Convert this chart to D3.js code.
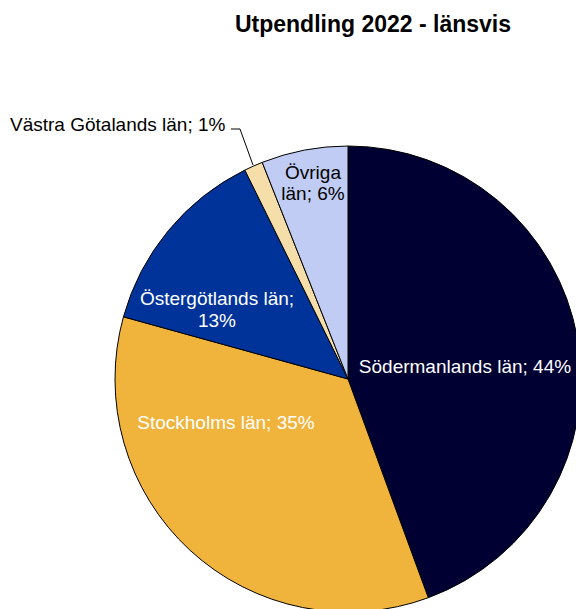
<!DOCTYPE html>
<html><head><meta charset="utf-8">
<script src="https://cdn.jsdelivr.net/npm/d3@7"></script>
<style>html,body{margin:0;padding:0;background:#fff;overflow:hidden}</style>
</head><body>
<script>
const categories = ["Södermanlands län", "Stockholms län", "Östergötlands län", "Västra Götalands län", "Övriga län"];
const values = [44.4, 34.9, 13.4, 1.3, 6.0];
const percentLabels = ["44%", "35%", "13%", "1%", "6%"];
const colors = ["#000033", "#F0B43C", "#003399", "#F5DEAA", "#C0CCF4"];
const title = "Utpendling 2022 - länsvis";

const W = 576, H = 609;
const cx = 348, cy = 379, R = 233;
const font = "'Liberation Sans', Arial, sans-serif";

const svg = d3.select("body").append("svg").attr("width", W).attr("height", H);

svg.append("text").attr("x", 373).attr("y", 32).attr("text-anchor", "middle")
  .attr("font-family", font).attr("font-weight", "bold").attr("font-size", 23)
  .text(title);

const data = categories.map((c, i) => ({name: c, value: values[i], pct: percentLabels[i], color: colors[i]}));
const pie = d3.pie().value(d => d.value).sort(null);
const arcs = pie(data);
const arc = d3.arc().innerRadius(0).outerRadius(R);

const g = svg.append("g").attr("transform", `translate(${cx},${cy})`);
g.selectAll("path").data(arcs).join("path")
  .attr("d", arc).attr("fill", d => d.data.color)
  .attr("stroke", "#000").attr("stroke-width", 1);

// label layouts (pixel positions relative to page) per slice
const layout = [
  {lines: d => [d.name + "; " + d.pct], x: 465, y: [373], fill: "#fff"},
  {lines: d => [d.name + "; " + d.pct], x: 226, y: [429], fill: "#fff"},
  {lines: d => [d.name + ";", d.pct], x: 217, y: [305, 327], fill: "#fff"},
  {lines: d => [d.name + "; " + d.pct], x: 10, y: [131], fill: "#000", anchor: "start"},
  {lines: d => ["Övriga", "län; " + d.pct], x: 313, y: [179, 200], fill: "#000"}
];

arcs.forEach((a, i) => {
  const L = layout[i];
  const t = svg.append("text").attr("font-family", font).attr("font-size", 19)
    .attr("fill", L.fill).attr("text-anchor", L.anchor || "middle");
  L.lines(a.data).forEach((ln, j) => {
    t.append("tspan").attr("x", L.x).attr("y", L.y[j]).text(ln);
  });
});

// leader line for small slice
const small = arcs[3];
const mid = (small.startAngle + small.endAngle) / 2;
const ex = cx + Math.sin(mid) * (R + 1), ey = cy - Math.cos(mid) * (R + 1);
svg.append("polyline")
  .attr("points", `231,129 240,129 ${ex},${ey}`)
  .attr("fill", "none").attr("stroke", "#000").attr("stroke-width", 1);
</script>
</body></html>
